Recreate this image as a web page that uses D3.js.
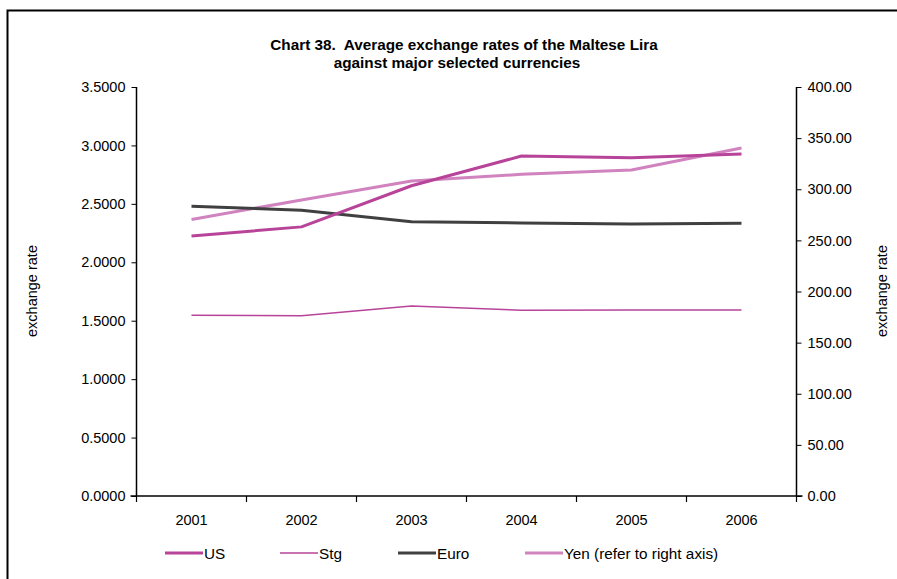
<!DOCTYPE html>
<html><head><meta charset="utf-8">
<script src="https://cdn.jsdelivr.net/npm/d3@7"></script>
<style>body{margin:0;background:#fff}svg{display:block;font-family:Arial,"Liberation Sans",sans-serif}</style>
</head><body><svg id="c" width="897" height="579"></svg>
<script>
const years = ["2001","2002","2003","2004","2005","2006"];
const us   = [2.225, 2.303, 2.655, 2.909, 2.895, 2.927];
const stg  = [1.546, 1.543, 1.626, 1.590, 1.592, 1.592];
const euro = [2.480, 2.446, 2.347, 2.337, 2.328, 2.333];
const yen  = [270.5, 289.5, 308.0, 314.6, 318.8, 340.3];
const leftTicks = [0,0.5,1,1.5,2,2.5,3,3.5];
const rightTicks = [0,50,100,150,200,250,300,350,400];

const svg = d3.select("#c");
svg.append("path").attr("d","M7.5,579V10.5H897").attr("fill","none").attr("stroke","#000").attr("stroke-width",2);

const L=136.5, R=796.5, T=87, B=496;
const x = d3.scaleBand().domain(years).range([L,R]);
const yL = d3.scaleLinear().domain([0,3.5]).range([B,T]);
const yR = d3.scaleLinear().domain([0,400]).range([B,T]);

svg.append("text").attr("x",464).attr("y",50).attr("text-anchor","middle").attr("font-weight","bold").attr("font-size",15.3).style("white-space","pre").text("Chart 38.  Average exchange rates of the Maltese Lira");
svg.append("text").attr("x",457).attr("y",67.5).attr("text-anchor","middle").attr("font-weight","bold").attr("font-size",15.3).text("against major selected currencies");

const gl = svg.append("g").attr("transform",`translate(${L},0)`)
  .call(d3.axisLeft(yL).tickValues(leftTicks).tickFormat(d3.format(".4f")).tickSize(5).tickPadding(6));
const gr = svg.append("g").attr("transform",`translate(${R},0)`)
  .call(d3.axisRight(yR).tickValues(rightTicks).tickFormat(d3.format(".2f")).tickSize(5).tickPadding(6));
const gx = svg.append("g").attr("transform",`translate(0,${B})`)
  .call(d3.axisBottom(x).tickSize(0).tickPadding(19));
const bounds = years.map(d=>x(d)).concat([R]);
gx.selectAll(".btick").data(bounds).enter().append("line").attr("x1",d=>d).attr("x2",d=>d).attr("y1",0).attr("y2",6).attr("stroke","#000").attr("stroke-width",1.2);
[gl,gr,gx].forEach(g=>{
  g.selectAll(".domain").attr("stroke","#000").attr("stroke-width",1.5);
  g.selectAll(".tick line").attr("stroke","#000");
  g.selectAll("text").attr("font-size",14.5).attr("fill","#000").attr("font-family","Arial, 'Liberation Sans', sans-serif");
});
gx.select(".domain").attr("d",`M${L-6},0H${R+6}`);
gl.select(".domain").attr("d",`M0,${T}V${B}`);
gr.select(".domain").attr("d",`M0,${T}V${B}`);

svg.append("text").attr("transform","translate(37,291) rotate(-90)").attr("text-anchor","middle").attr("font-size",14.5).text("exchange rate");
svg.append("text").attr("transform","translate(887,291) rotate(-90)").attr("text-anchor","middle").attr("font-size",14.5).text("exchange rate");

const cx = d=>x(d)+x.bandwidth()/2;
const series = [
  {name:"US", vals:us, s:yL, color:"#b8449a", w:3},
  {name:"Stg", vals:stg, s:yL, color:"#b8449a", w:1.5},
  {name:"Euro", vals:euro, s:yL, color:"#404040", w:3},
  {name:"Yen (refer to right axis)", vals:yen, s:yR, color:"#d083bf", w:3}
];
const drawOrder = [series[1], series[3], series[2], series[0]];
drawOrder.forEach(sr=>{
  const line = d3.line().x((d,i)=>cx(years[i])).y(d=>sr.s(d));
  svg.append("path").attr("d",line(sr.vals)).attr("fill","none").attr("stroke",sr.color).attr("stroke-width",sr.w).attr("stroke-linejoin","round");
});

const legX = [165, 280, 398, 525];
series.forEach((sr,i)=>{
  svg.append("line").attr("x1",legX[i]).attr("x2",legX[i]+38).attr("y1",553).attr("y2",553).attr("stroke",sr.color).attr("stroke-width",sr.w);
  svg.append("text").attr("x",legX[i]+39).attr("y",558.5).attr("font-size",15.3).text(sr.name);
});
</script></body></html>
